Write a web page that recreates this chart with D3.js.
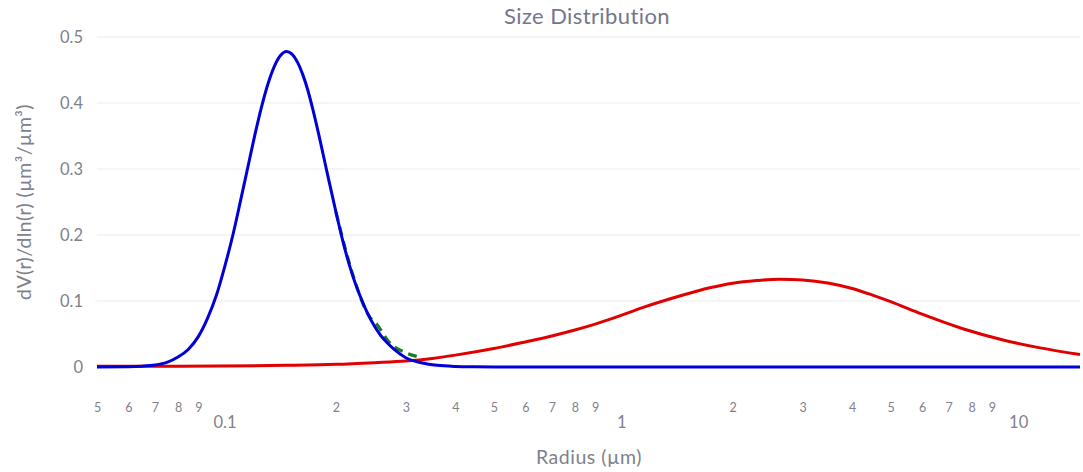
<!DOCTYPE html>
<html><head><meta charset="utf-8">
<script src="https://cdn.jsdelivr.net/npm/d3@7"></script>
<style>body{margin:0;background:#fff}svg{display:block}text{font-family:Lato,"Open Sans",sans-serif}</style>
</head><body><svg id="c" width="1083" height="472"></svg>
<script>
const title = "Size Distribution";
const xTitle = "Radius (µm)";
const yTitle = "dV(r)/dln(r) (µm³/µm³)";
const yTicks = [0, 0.1, 0.2, 0.3, 0.4, 0.5];
const yTickLabels = ["0", "0.1", "0.2", "0.3", "0.4", "0.5"];
const majorTicks = [0.1, 1, 10];
const majorLabels = ["0.1", "1", "10"];
const minorTicks = [0.05,0.06,0.07,0.08,0.09,0.2,0.3,0.4,0.5,0.6,0.7,0.8,0.9,2,3,4,5,6,7,8,9];
const minorLabels = ["5","6","7","8","9","2","3","4","5","6","7","8","9","2","3","4","5","6","7","8","9"];

// fine-mode distribution (blue)
const fineR = [0.05,0.06,0.065,0.07,0.075,0.08,0.085,0.09,0.095,0.1,0.105,0.11,0.115,0.12,0.125,0.13,0.135,0.14,0.145,0.15,0.155,0.16,0.165,0.17,0.175,0.18,0.19,0.2,0.21,0.22,0.23,0.24,0.25,0.26,0.27,0.28,0.3,0.33,0.36,0.4,0.45,0.5,0.7,1,2,5,10,15];
const fineV = [0,0.0004,0.0012,0.003,0.007,0.015,0.027,0.046,0.074,0.109,0.153,0.2,0.252,0.303,0.352,0.395,0.43,0.456,0.472,0.478,0.474,0.462,0.443,0.419,0.39,0.359,0.295,0.235,0.182,0.14,0.108,0.082,0.062,0.047,0.036,0.027,0.014,0.006,0.0025,0.0008,0.0002,0,0,0,0,0,0,0];
// fit (green dashed)
const fitR = [0.2,0.22,0.242,0.254,0.272,0.302,0.325];
const fitV = [0.235,0.142,0.078,0.064,0.038,0.021,0.015];
// coarse-mode distribution (red)
const coarseR = [0.05,0.1,0.15,0.2,0.25,0.3,0.35,0.4,0.5,0.6,0.7,0.8,0.9,1,1.2,1.5,1.75,2,2.3,2.63,3,3.5,4,4.5,5,6,7.6,9.6,11.9,15];
const coarseV = [0.001,0.0015,0.0025,0.004,0.0065,0.009,0.013,0.018,0.028,0.038,0.047,0.056,0.065,0.074,0.091,0.109,0.12,0.127,0.131,0.133,0.132,0.127,0.119,0.109,0.099,0.08,0.058,0.041,0.029,0.019];

const svg = d3.select("#c");
const L = 97, R = 1080, T = 37, B = 367;
const x = d3.scaleLog().domain([0.05, 15]).range([L, R]);
const y = d3.scaleLinear().domain([0, 0.5]).range([B, T]);
const grey = "#80818c";

// grid
svg.append("g").selectAll("line").data(yTicks).join("line")
  .attr("x1", L).attr("x2", R).attr("y1", d => y(d)).attr("y2", d => y(d))
  .attr("stroke", "#ebebeb").attr("stroke-width", 1.2);

// y axis labels
const yAxis = d3.axisLeft(y).tickValues(yTicks).tickFormat((d,i) => yTickLabels[i]).tickSize(0).tickPadding(14);
const gy = svg.append("g").attr("transform", `translate(${L},0)`).call(yAxis);
gy.select(".domain").remove();
gy.selectAll("text").attr("font-size", 16.5).attr("fill", grey).style("font-family", "Lato");

// x axis minor labels
const xMinor = d3.axisBottom(x).tickValues(minorTicks).tickFormat((d,i) => minorLabels[i]).tickSize(0).tickPadding(36.5);
const gx = svg.append("g").attr("transform", `translate(0,${B})`).call(xMinor);
gx.select(".domain").remove();
gx.selectAll("text").attr("font-size", 12.5).attr("fill", grey).style("font-family", "Lato");
// x axis major labels
const xMajor = d3.axisBottom(x).tickValues(majorTicks).tickFormat((d,i) => majorLabels[i]).tickSize(0).tickPadding(49);
const gx2 = svg.append("g").attr("transform", `translate(8,${B})`).call(xMajor);
gx2.select(".domain").remove();
gx2.selectAll("text").attr("font-size", 16.5).attr("fill", grey).style("font-family", "Lato");

// lines
const line = d3.line().x(d => x(d[0])).y(d => y(d[1])).curve(d3.curveMonotoneX);
const z = (a, b) => a.map((v, i) => [v, b[i]]);
svg.append("path").attr("d", line(z(coarseR, coarseV))).attr("fill", "none").attr("stroke", "#e00000").attr("stroke-width", 3);
svg.append("path").attr("d", line(z(fitR, fitV))).attr("fill", "none").attr("stroke", "#1f7f1f").attr("stroke-width", 3.2).attr("stroke-dasharray", "9,6");
svg.append("path").attr("d", line(z(fineR, fineV))).attr("fill", "none").attr("stroke", "#0000d8").attr("stroke-width", 3);

// titles
svg.append("text").attr("x", 587).attr("y", 24).attr("text-anchor", "middle").attr("font-size", 22).attr("letter-spacing", 0.4).attr("fill", "#74778a").text(title);
svg.append("text").attr("x", 589).attr("y", 464).attr("text-anchor", "middle").attr("font-size", 19.5).attr("letter-spacing", 0.5).attr("fill", grey).text(xTitle);
svg.append("text").attr("transform", "translate(31,202) rotate(-90)").attr("text-anchor", "middle").attr("font-size", 19.5).attr("letter-spacing", 0.4).attr("fill", grey).text(yTitle);
</script></body></html>
